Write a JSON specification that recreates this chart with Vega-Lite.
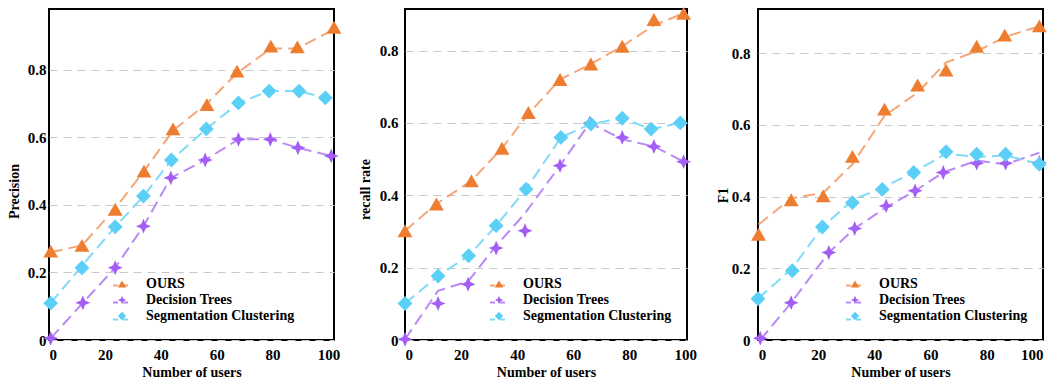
{
  "$schema": "https://vega.github.io/schema/vega-lite/v6.json",
  "padding": {"left": 6, "top": 5, "right": 5, "bottom": 2},
  "background": "white",
  "bounds": "flush",
  "spacing": 71,
  "datasets": {
    "precision": [
      {"series": "OURS", "x": 0.6, "y": 0.263, "yl": 0.26},
      {"series": "OURS", "x": 11.8, "y": 0.28, "yl": 0.28},
      {"series": "OURS", "x": 23.7, "y": 0.387, "yl": 0.39},
      {"series": "OURS", "x": 34.0, "y": 0.5, "yl": 0.5},
      {"series": "OURS", "x": 44.4, "y": 0.625, "yl": 0.62},
      {"series": "OURS", "x": 56.5, "y": 0.697, "yl": 0.7},
      {"series": "OURS", "x": 67.3, "y": 0.796, "yl": 0.79},
      {"series": "OURS", "x": 79.4, "y": 0.87, "yl": 0.863},
      {"series": "OURS", "x": 88.9, "y": 0.868, "yl": 0.863},
      {"series": "OURS", "x": 102, "y": 0.926, "yl": 0.92},
      {"series": "Decision Trees", "x": 0.6, "y": 0.005, "yl": 0.005},
      {"series": "Decision Trees", "x": 12.1, "y": 0.11, "yl": 0.11},
      {"series": "Decision Trees", "x": 23.7, "y": 0.214, "yl": 0.214},
      {"series": "Decision Trees", "x": 33.8, "y": 0.337, "yl": 0.337},
      {"series": "Decision Trees", "x": 43.6, "y": 0.48, "yl": 0.48},
      {"series": "Decision Trees", "x": 55.9, "y": 0.533, "yl": 0.533},
      {"series": "Decision Trees", "x": 67.8, "y": 0.594, "yl": 0.594},
      {"series": "Decision Trees", "x": 79.2, "y": 0.594, "yl": 0.594},
      {"series": "Decision Trees", "x": 89.1, "y": 0.569, "yl": 0.569},
      {"series": "Decision Trees", "x": 101, "y": 0.545, "yl": 0.545},
      {"series": "Segmentation Clustering", "x": 0.6, "y": 0.109, "yl": 0.109},
      {"series": "Segmentation Clustering", "x": 11.8, "y": 0.214, "yl": 0.22},
      {"series": "Segmentation Clustering", "x": 23.7, "y": 0.335, "yl": 0.335},
      {"series": "Segmentation Clustering", "x": 33.8, "y": 0.426, "yl": 0.426},
      {"series": "Segmentation Clustering", "x": 43.8, "y": 0.533, "yl": 0.533},
      {"series": "Segmentation Clustering", "x": 56.3, "y": 0.625, "yl": 0.625},
      {"series": "Segmentation Clustering", "x": 67.8, "y": 0.702, "yl": 0.702},
      {"series": "Segmentation Clustering", "x": 78.8, "y": 0.737, "yl": 0.737},
      {"series": "Segmentation Clustering", "x": 89.5, "y": 0.737, "yl": 0.737},
      {"series": "Segmentation Clustering", "x": 98.9, "y": 0.717, "yl": 0.717}
    ],
    "recall": [
      {"series": "OURS", "x": 0, "y": 0.302, "yl": 0.302},
      {"series": "OURS", "x": 11.2, "y": 0.376, "yl": 0.376},
      {"series": "OURS", "x": 23.7, "y": 0.44, "yl": 0.44},
      {"series": "OURS", "x": 34.6, "y": 0.53, "yl": 0.53},
      {"series": "OURS", "x": 44.0, "y": 0.629, "yl": 0.625},
      {"series": "OURS", "x": 55.3, "y": 0.72, "yl": 0.72},
      {"series": "OURS", "x": 66.3, "y": 0.763, "yl": 0.763},
      {"series": "OURS", "x": 77.5, "y": 0.812, "yl": 0.812},
      {"series": "OURS", "x": 88.8, "y": 0.886, "yl": 0.87},
      {"series": "OURS", "x": 99.4, "y": 0.903, "yl": 0.903},
      {"series": "Decision Trees", "x": 0, "y": 0.002, "yl": 0.002},
      {"series": "Decision Trees", "x": 11.8, "y": 0.101, "yl": 0.136},
      {"series": "Decision Trees", "x": 22.5, "y": 0.154, "yl": 0.162},
      {"series": "Decision Trees", "x": 32.5, "y": 0.254, "yl": 0.26},
      {"series": "Decision Trees", "x": 42.8, "y": 0.302, "yl": 0.35},
      {"series": "Decision Trees", "x": 55.3, "y": 0.482, "yl": 0.482},
      {"series": "Decision Trees", "x": 65.9, "y": 0.6, "yl": 0.6},
      {"series": "Decision Trees", "x": 77.5, "y": 0.56, "yl": 0.555},
      {"series": "Decision Trees", "x": 88.8, "y": 0.535, "yl": 0.535},
      {"series": "Decision Trees", "x": 99.4, "y": 0.493, "yl": 0.493},
      {"series": "Segmentation Clustering", "x": 0, "y": 0.101, "yl": 0.101},
      {"series": "Segmentation Clustering", "x": 11.8, "y": 0.177, "yl": 0.177},
      {"series": "Segmentation Clustering", "x": 22.7, "y": 0.233, "yl": 0.233},
      {"series": "Segmentation Clustering", "x": 32.5, "y": 0.316, "yl": 0.316},
      {"series": "Segmentation Clustering", "x": 43.2, "y": 0.417, "yl": 0.417},
      {"series": "Segmentation Clustering", "x": 55.6, "y": 0.56, "yl": 0.56},
      {"series": "Segmentation Clustering", "x": 66.3, "y": 0.597, "yl": 0.597},
      {"series": "Segmentation Clustering", "x": 77.5, "y": 0.613, "yl": 0.613},
      {"series": "Segmentation Clustering", "x": 87.8, "y": 0.583, "yl": 0.583},
      {"series": "Segmentation Clustering", "x": 98.2, "y": 0.6, "yl": 0.6}
    ],
    "f1": [
      {"series": "OURS", "x": -1.2, "y": 0.295, "yl": 0.322},
      {"series": "OURS", "x": 10.4, "y": 0.391, "yl": 0.395},
      {"series": "OURS", "x": 21.8, "y": 0.402, "yl": 0.41},
      {"series": "OURS", "x": 32.2, "y": 0.512, "yl": 0.49},
      {"series": "OURS", "x": 43.6, "y": 0.644, "yl": 0.625},
      {"series": "OURS", "x": 55.4, "y": 0.711, "yl": 0.69},
      {"series": "OURS", "x": 65.5, "y": 0.753, "yl": 0.774},
      {"series": "OURS", "x": 76.4, "y": 0.819, "yl": 0.805},
      {"series": "OURS", "x": 86.4, "y": 0.85, "yl": 0.845},
      {"series": "OURS", "x": 98.7, "y": 0.876, "yl": 0.875},
      {"series": "Decision Trees", "x": -0.6, "y": 0.005, "yl": 0.0},
      {"series": "Decision Trees", "x": 10.4, "y": 0.104, "yl": 0.104},
      {"series": "Decision Trees", "x": 23.8, "y": 0.244, "yl": 0.244},
      {"series": "Decision Trees", "x": 33.0, "y": 0.311, "yl": 0.311},
      {"series": "Decision Trees", "x": 44.2, "y": 0.374, "yl": 0.37},
      {"series": "Decision Trees", "x": 54.5, "y": 0.416, "yl": 0.416},
      {"series": "Decision Trees", "x": 64.5, "y": 0.467, "yl": 0.467},
      {"series": "Decision Trees", "x": 76.4, "y": 0.493, "yl": 0.5},
      {"series": "Decision Trees", "x": 86.7, "y": 0.493, "yl": 0.49},
      {"series": "Decision Trees", "x": 98.7, "y": 0.495, "yl": 0.522},
      {"series": "Segmentation Clustering", "x": -1.4, "y": 0.115, "yl": 0.115},
      {"series": "Segmentation Clustering", "x": 10.8, "y": 0.193, "yl": 0.2},
      {"series": "Segmentation Clustering", "x": 21.5, "y": 0.315, "yl": 0.315},
      {"series": "Segmentation Clustering", "x": 32.2, "y": 0.383, "yl": 0.39},
      {"series": "Segmentation Clustering", "x": 42.8, "y": 0.42, "yl": 0.425},
      {"series": "Segmentation Clustering", "x": 54.0, "y": 0.467, "yl": 0.467},
      {"series": "Segmentation Clustering", "x": 65.5, "y": 0.525, "yl": 0.52},
      {"series": "Segmentation Clustering", "x": 76.4, "y": 0.518, "yl": 0.51},
      {"series": "Segmentation Clustering", "x": 86.7, "y": 0.518, "yl": 0.515},
      {"series": "Segmentation Clustering", "x": 98.7, "y": 0.49, "yl": 0.49}
    ]
  },
  "resolve": {
    "scale": {"color": "independent", "stroke": "independent", "shape": "independent", "x": "independent", "y": "independent"},
    "legend": {"color": "independent", "shape": "independent", "stroke": "independent"}
  },
  "hconcat": [
    {
      "width": 285,
      "height": 331,
      "data": {"name": "precision"},
      "layer": [
        {
          "mark": {"type": "line", "strokeDash": [12, 6], "strokeWidth": 2},
          "encoding": {
            "x": {"field": "x", "type": "quantitative", "scale": {"domain": [0, 102], "nice": false, "zero": false}, "axis": {"values": [0, 20, 40, 60, 80, 100], "grid": false, "title": "Number of users", "labelPadding": 7, "titlePadding": 3}},
            "y": {"field": "yl", "type": "quantitative", "scale": {"domain": [0, 0.98], "nice": false}, "axis": {"values": [0, 0.2, 0.4, 0.6, 0.8], "labelExpr": "datum.value == 0 ? '0' : format(datum.value, '.1f')", "title": "Precision", "labelPadding": 3, "titlePadding": 6, "titleY": 182}},
            "stroke": {"field": "series", "type": "nominal", "scale": {"domain": ["Segmentation Clustering", "Decision Trees", "OURS"], "range": ["#7FDAF8", "#B98AF5", "#F4A678"]},
              "legend": {"orient": "none", "legendX": 63, "legendY": 268, "title": null, "values": ["OURS", "Decision Trees", "Segmentation Clustering"], "symbolType": "stroke", "symbolSize": 225, "symbolStrokeWidth": 2, "symbolDash": [5, 5, 5], "rowPadding": 1, "labelExpr": "''"}}
          }
        },
        {
          "mark": {"type": "point", "filled": true, "opacity": 1, "size": 220},
          "encoding": {
            "x": {"field": "x", "type": "quantitative"},
            "y": {"field": "y", "type": "quantitative"},
            "color": {"field": "series", "type": "nominal", "scale": {"domain": ["OURS", "Decision Trees", "Segmentation Clustering"], "range": ["#EE7D2F", "#A45EF5", "#5CCFF7"]},
              "legend": {"orient": "none", "legendX": 66, "legendY": 268, "title": null, "labelOffset": 17,
                "labelExpr": "datum.label == 'OURS' ? '\u00a0OURS' : datum.label == 'Decision Trees' ? '\u00a0\u00a0Decision Trees' : '\u00a0\u00a0\u00a0Segmentation Clustering'"}},
            "shape": {"field": "series", "type": "nominal", "scale": {"domain": ["OURS", "Decision Trees", "Segmentation Clustering"], "range": ["triangle-up", "M0,-1L0.3,-0.3L1,0L0.3,0.3L0,1L-0.3,0.3L-1,0L-0.3,-0.3Z", "diamond"]},
              "legend": {"orient": "none", "legendX": 66, "legendY": 268, "title": null, "labelOffset": 17,
                "labelExpr": "datum.label == 'OURS' ? '\u00a0OURS' : datum.label == 'Decision Trees' ? '\u00a0\u00a0Decision Trees' : '\u00a0\u00a0\u00a0Segmentation Clustering'"}}
          }
        }
      ]
    },
    {
      "width": 282,
      "height": 331,
      "data": {"name": "recall"},
      "layer": [
        {
          "mark": {"type": "line", "strokeDash": [12, 6], "strokeWidth": 2},
          "encoding": {
            "x": {"field": "x", "type": "quantitative", "scale": {"domain": [0, 100.6], "nice": false, "zero": false}, "axis": {"values": [0, 20, 40, 60, 80, 100], "grid": false, "title": "Number of users", "labelPadding": 7, "titlePadding": 3}},
            "y": {"field": "yl", "type": "quantitative", "scale": {"domain": [0, 0.915], "nice": false}, "axis": {"values": [0, 0.2, 0.4, 0.6, 0.8], "labelExpr": "datum.value == 0 ? '0' : format(datum.value, '.1f')", "title": "recall rate", "labelPadding": 7, "titlePadding": 7, "titleY": 180}},
            "stroke": {"field": "series", "type": "nominal", "scale": {"domain": ["Segmentation Clustering", "Decision Trees", "OURS"], "range": ["#7FDAF8", "#B98AF5", "#F4A678"]},
              "legend": {"orient": "none", "legendX": 84, "legendY": 268, "title": null, "values": ["OURS", "Decision Trees", "Segmentation Clustering"], "symbolType": "stroke", "symbolSize": 225, "symbolStrokeWidth": 2, "symbolDash": [5, 5, 5], "rowPadding": 1, "labelExpr": "''"}}
          }
        },
        {
          "mark": {"type": "point", "filled": true, "opacity": 1, "size": 220},
          "encoding": {
            "x": {"field": "x", "type": "quantitative"},
            "y": {"field": "y", "type": "quantitative"},
            "color": {"field": "series", "type": "nominal", "scale": {"domain": ["OURS", "Decision Trees", "Segmentation Clustering"], "range": ["#EE7D2F", "#A45EF5", "#5CCFF7"]},
              "legend": {"orient": "none", "legendX": 87, "legendY": 268, "title": null, "labelOffset": 17}},
            "shape": {"field": "series", "type": "nominal", "scale": {"domain": ["OURS", "Decision Trees", "Segmentation Clustering"], "range": ["triangle-up", "M0,-1L0.3,-0.3L1,0L0.3,0.3L0,1L-0.3,0.3L-1,0L-0.3,-0.3Z", "diamond"]},
              "legend": {"orient": "none", "legendX": 87, "legendY": 268, "title": null, "labelOffset": 17}}
          }
        }
      ]
    },
    {
      "width": 285,
      "height": 331,
      "data": {"name": "f1"},
      "layer": [
        {
          "mark": {"type": "line", "strokeDash": [12, 6], "strokeWidth": 2},
          "encoding": {
            "x": {"field": "x", "type": "quantitative", "scale": {"domain": [-1.4, 100], "nice": false, "zero": false}, "axis": {"values": [0, 20, 40, 60, 80, 100], "grid": false, "title": "Number of users", "labelPadding": 7, "titlePadding": 3}},
            "y": {"field": "yl", "type": "quantitative", "scale": {"domain": [0, 0.923], "nice": false}, "axis": {"values": [0, 0.2, 0.4, 0.6, 0.8], "labelExpr": "datum.value == 0 ? '0' : format(datum.value, '.1f')", "title": "F1", "labelPadding": 8, "titlePadding": 1, "titleY": 186}},
            "stroke": {"field": "series", "type": "nominal", "scale": {"domain": ["Segmentation Clustering", "Decision Trees", "OURS"], "range": ["#7FDAF8", "#B98AF5", "#F4A678"]},
              "legend": {"orient": "none", "legendX": 87, "legendY": 268, "title": null, "values": ["OURS", "Decision Trees", "Segmentation Clustering"], "symbolType": "stroke", "symbolSize": 225, "symbolStrokeWidth": 2, "symbolDash": [5, 5, 5], "rowPadding": 1, "labelExpr": "''"}}
          }
        },
        {
          "mark": {"type": "point", "filled": true, "opacity": 1, "size": 220},
          "encoding": {
            "x": {"field": "x", "type": "quantitative"},
            "y": {"field": "y", "type": "quantitative"},
            "color": {"field": "series", "type": "nominal", "scale": {"domain": ["OURS", "Decision Trees", "Segmentation Clustering"], "range": ["#EE7D2F", "#A45EF5", "#5CCFF7"]},
              "legend": {"orient": "none", "legendX": 90, "legendY": 268, "title": null, "labelOffset": 17}},
            "shape": {"field": "series", "type": "nominal", "scale": {"domain": ["OURS", "Decision Trees", "Segmentation Clustering"], "range": ["triangle-up", "M0,-1L0.3,-0.3L1,0L0.3,0.3L0,1L-0.3,0.3L-1,0L-0.3,-0.3Z", "diamond"]},
              "legend": {"orient": "none", "legendX": 90, "legendY": 268, "title": null, "labelOffset": 17}}
          }
        }
      ]
    }
  ],
  "config": {
    "font": "Liberation Serif",
    "view": {"stroke": "#000000", "strokeWidth": 2},
    "axis": {
      "labelFont": "Liberation Serif", "labelFontWeight": "bold", "labelFontSize": 15, "labelColor": "#000000",
      "titleFont": "Liberation Serif", "titleFontWeight": "bold", "titleFontSize": 14, "titleColor": "#000000",
      "ticks": false, "domain": false, "gridColor": "#c8c8c8", "gridDash": [8, 6], "gridWidth": 1.2
    },
    "legend": {
      "labelFont": "Liberation Serif", "labelFontWeight": "bold", "labelFontSize": 14, "labelColor": "#000000",
      "symbolSize": 70, "symbolStrokeWidth": 0, "rowPadding": 2, "padding": 0, "symbolOpacity": 1
    }
  }
}
